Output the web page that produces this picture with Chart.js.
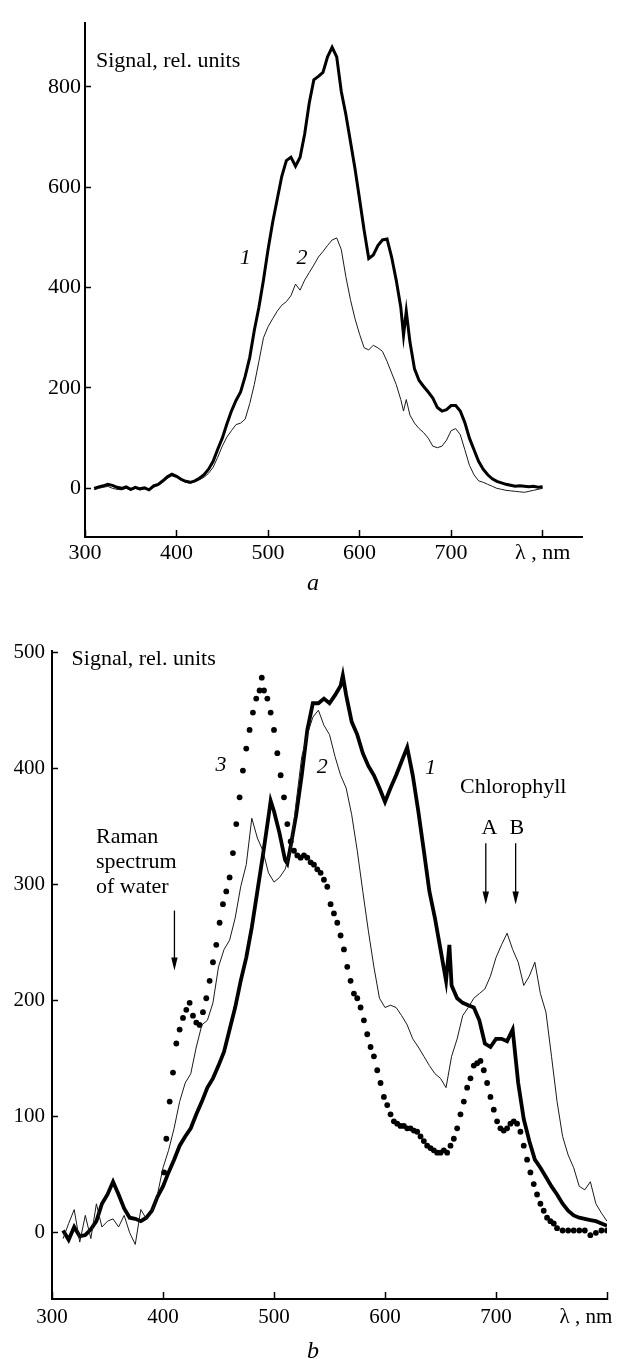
<!DOCTYPE html>
<html><head><meta charset="utf-8">
<script src="https://cdn.jsdelivr.net/npm/chart.js@4/dist/chart.umd.min.js"></script>
<style>
html,body{margin:0;padding:0;background:#fff;}
#wa{position:absolute;left:0;top:0;width:620px;height:600px;}
#wb{position:absolute;left:0;top:620px;width:620px;height:739px;}
</style></head><body>
<div id="wa"><canvas id="ca"></canvas></div>
<div id="wb"><canvas id="cb"></canvas></div>
<script>
// ---------- Panel a ----------
const aXTicks = [300,400,500,600,700,800];
const aYTicks = [0,200,400,600,800];
const aWl = [310,315,320,325,330,335,340,345,350,355,360,365,370,375,380,385,390,395,400,405,410,415,420,425,430,435,440,445,450,455,460,465,470,475,480,485,490,495,500,505,510,515,520,525,530,535,540,545,550,555,560,565,570,575,580,585,590,595,600,605,610,615,620,625,630,635,640,645,648,651,655,660,665,670,675,680,685,690,695,700,705,710,715,720,725,730,735,740,745,750,755,760,765,770,775,780,785,790,795,800];
const aCurve1 = [0,3,5,8,6,2,0,3,-2,2,-1,1,-3,5,8,15,23,28,24,18,14,12,15,20,27,38,54,78,100,128,154,175,192,223,261,315,361,415,476,530,576,622,653,660,642,660,706,768,814,821,829,860,879,860,791,745,691,637,576,514,458,465,484,495,497,461,415,361,305,353,292,238,215,203,192,180,161,154,157,165,165,154,131,100,77,54,38,27,19,14,11,8,6,4,5,4,3,4,2,3];
const aCurve2 = [-3,0,2,4,0,-2,-3,0,-4,0,-3,-1,-4,2,6,12,20,25,22,16,12,10,13,17,22,30,42,62,84,102,115,127,130,138,169,207,253,300,322,338,353,365,372,384,407,395,415,430,445,461,472,484,495,499,476,422,376,338,307,280,276,285,280,273,253,230,207,177,154,177,146,130,119,111,100,84,81,84,96,115,119,107,77,46,27,15,12,8,4,0,-2,-4,-5,-6,-7,-8,-6,-4,-2,0];

// ---------- Panel b ----------
const bXTicks = [300,400,500,600,700,800];
const bYTicks = [0,100,200,300,400,500];
const bWl1 = [310,315,320,325,330,335,340,345,350,355,360,365,370,375,380,385,390,395,400,405,410,415,420,425,430,435,440,445,450,455,460,465,470,475,480,485,490,495,497,500,505,510,512,515,520,525,530,535,540,545,550,555,560,562,565,570,575,580,585,590,595,600,605,610,615,620,625,630,635,640,645,650,655,658,660,665,670,675,680,685,690,695,700,705,710,715,720,725,730,735,740,745,750,755,760,765,770,775,780,785,790,795,800];
const bCurve1 = [2,-6,5,-3,-2,3,10,25,33,44,33,21,13,12,10,13,19,31,40,52,63,75,83,90,102,113,125,133,144,156,175,194,217,237,263,294,325,358,372,363,344,321,318,333,360,394,433,456,456,460,456,463,471,480,463,440,429,413,402,394,383,371,383,394,406,418,394,363,329,294,271,244,217,248,213,202,198,196,194,183,163,160,167,167,165,175,129,98,79,63,56,48,40,33,25,19,15,13,12,11,10,8,6];
const bWl2 = [310,315,320,325,330,335,340,345,350,355,360,365,370,375,380,385,390,395,400,405,410,415,420,425,430,435,440,445,450,455,460,465,470,475,480,485,490,495,500,505,510,515,520,525,530,535,540,545,550,555,560,565,570,575,580,585,590,595,600,605,610,615,620,625,630,635,640,645,650,655,660,665,670,675,680,685,690,695,700,705,710,715,720,725,730,735,740,745,750,755,760,765,770,775,780,785,790,795,800];
const bCurve2 = [-5,8,20,-8,15,-5,25,5,10,12,5,15,0,-10,20,12,17,33,56,71,90,113,129,137,160,179,183,198,229,244,252,271,298,317,357,340,329,310,302,306,313,329,371,410,429,444,450,437,429,410,394,383,360,329,294,260,229,202,194,196,194,187,179,167,160,152,144,137,133,125,152,167,187,194,202,206,210,221,237,248,258,244,233,213,221,233,206,190,152,113,83,67,56,40,37,44,25,17,10];
const bWl3 = [401,403,406,409,412,415,418,421,424,427,430,433,436,439,442,445,448,451,454,457,460,463,466,469,472,475,478,481,484,487,489,491,494,497,500,503,506,509,512,515,518,521,524,527,530,533,536,539,542,545,548,551,554,557,560,563,566,569,572,575,578,581,584,587,590,593,596,599,602,605,608,611,614,617,620,623,626,629,632,635,638,641,644,647,650,653,656,659,662,665,668,671,674,677,680,683,686,689,692,695,698,701,704,707,710,713,716,719,722,725,728,731,734,737,740,743,746,749,752,755,760,765,770,775,780,785,790,795,800];
const bCurve3 = [52,81,113,138,163,175,185,192,198,187,181,179,190,202,217,233,248,267,283,294,306,327,352,375,398,417,433,448,460,467,478,467,460,448,433,413,394,375,352,337,329,325,323,325,323,319,317,313,310,304,298,283,275,267,256,244,229,217,206,202,194,183,171,160,152,140,129,117,110,102,96,94,92,92,90,90,88,87,83,79,75,73,71,69,69,71,69,75,81,90,102,113,125,133,144,146,148,140,129,117,106,96,90,88,90,94,96,94,87,75,63,52,42,33,25,19,13,10,8,4,2,2,2,2,2,-2,0,2,2];

const pts = (xs, ys) => xs.map((x, i) => ({x, y: ys[i]}));
const SERIF = '"Liberation Serif", "DejaVu Serif", serif';

const annot = {
  id: 'annot',
  afterDatasetsDraw(chart, args, opts) {
    const ctx = chart.ctx, xs = chart.scales.x, ys = chart.scales.y;
    ctx.save();
    ctx.fillStyle = '#000'; ctx.strokeStyle = '#000';
    (opts.texts || []).forEach(t => {
      ctx.font = t.font; ctx.textAlign = t.align || 'center'; ctx.textBaseline = 'middle';
      const x = t.px != null ? t.px : xs.getPixelForValue(t.x);
      const y = t.py != null ? t.py : ys.getPixelForValue(t.y);
      ctx.fillText(t.text, x, y);
    });
    (opts.arrows || []).forEach(a => {
      const x = xs.getPixelForValue(a.x), y1 = ys.getPixelForValue(a.y1), y2 = ys.getPixelForValue(a.y2);
      ctx.lineWidth = 1.3;
      ctx.beginPath(); ctx.moveTo(x, y1); ctx.lineTo(x, y2 - 8); ctx.stroke();
      ctx.beginPath(); ctx.moveTo(x - 3.2, y2 - 13); ctx.lineTo(x, y2); ctx.lineTo(x + 3.2, y2 - 13); ctx.closePath(); ctx.fill();
    });
    ctx.restore();
  }
};

function axisCfg(o) {
  return {
    type: 'linear', min: o.min, max: o.max,
    afterBuildTicks: s => { s.ticks = o.ticks.map(v => ({value: v})); },
    afterFit: s => { if (o.w != null) s.width = o.w; if (o.h != null) s.height = o.h; },
    border: {display: true, color: '#000', width: 2},
    grid: {display: true, drawOnChartArea: false, drawTicks: true, tickLength: o.tl, tickWidth: 1.5, tickColor: '#000'},
    ticks: {color: '#000', font: {family: SERIF, size: o.fs}, padding: o.pad, maxRotation: 0, autoSkip: false,
      callback: o.cb || (v => String(v))}
  };
}

const IT = 'italic 22px ' + SERIF;
const RG = '22px ' + SERIF;

new Chart(document.getElementById('ca'), {
  type: 'scatter',
  data: {datasets: [
    {data: pts(aWl, aCurve1), showLine: true, borderColor: '#000', borderWidth: 3, pointRadius: 0, tension: 0},
    {data: pts(aWl, aCurve2), showLine: true, borderColor: '#1a1a1a', borderWidth: 1, pointRadius: 0, tension: 0}
  ]},
  options: {
    responsive: true, maintainAspectRatio: false, animation: false,
    layout: {padding: {left: 0, right: 38, top: 9, bottom: 0}},
    plugins: {legend: {display: false}, tooltip: {enabled: false},
      annot: {texts: [
        {text: 'Signal, rel. units', x: 312, y: 851, align: 'left', font: RG},
        {text: '1', x: 475, y: 458, font: IT},
        {text: '2', x: 537, y: 458, font: IT},
        {text: 'a', px: 313, py: 584, font: 'italic 24px ' + SERIF}
      ]}},
    scales: {
      x: axisCfg({min: 300, max: 843, ticks: aXTicks, h: 63, tl: -7, pad: 10, fs: 22, cb: v => v === 800 ? 'λ , nm' : String(v)}),
      y: axisCfg({min: -97, max: 927, ticks: aYTicks, w: 85, tl: -6, pad: 10, fs: 22})
    }
  },
  plugins: [annot]
});

new Chart(document.getElementById('cb'), {
  type: 'scatter',
  data: {datasets: [
    {data: pts(bWl2, bCurve2), showLine: true, borderColor: '#1a1a1a', borderWidth: 1, pointRadius: 0, tension: 0},
    {data: pts(bWl1, bCurve1), showLine: true, borderColor: '#000', borderWidth: 3.8, pointRadius: 0, tension: 0},
    {data: pts(bWl3, bCurve3), showLine: false, pointRadius: 2.9, pointBackgroundColor: '#000', pointBorderWidth: 0}
  ]},
  options: {
    responsive: true, maintainAspectRatio: false, animation: false,
    layout: {padding: {left: 0, right: 0, top: 31, bottom: 0}},
    plugins: {legend: {display: false}, tooltip: {enabled: false},
      annot: {
        texts: [
          {text: 'Signal, rel. units', x: 317.6, y: 493.8, align: 'left', font: RG},
          {text: '3', x: 452.3, y: 402.4, font: IT},
          {text: '2', x: 543.5, y: 401, font: IT},
          {text: '1', x: 641, y: 400.2, font: IT},
          {text: 'Chlorophyll', x: 715.5, y: 383.8, font: RG},
          {text: 'A', x: 694, y: 348.4, font: RG},
          {text: 'B', x: 718.7, y: 348.4, font: RG},
          {text: 'Raman', x: 339.6, y: 340.7, align: 'left', font: RG},
          {text: 'spectrum', x: 339.6, y: 319.1, align: 'left', font: RG},
          {text: 'of water', x: 339.6, y: 297.6, align: 'left', font: RG},
          {text: 'λ , nm', px: 586, py: 697, font: '21px ' + SERIF},
          {text: 'b', px: 313, py: 732, font: 'italic 24px ' + SERIF}
        ],
        arrows: [
          {x: 690.8, y1: 335.5, y2: 282.7},
          {x: 717.7, y1: 335.5, y2: 282.7},
          {x: 410.3, y1: 277.5, y2: 225.8}
        ]
      }},
    scales: {
      x: axisCfg({min: 300, max: 800, ticks: bXTicks, h: 60, tl: -7, pad: 13, fs: 21, cb: v => v === 800 ? '' : String(v)}),
      y: axisCfg({min: -57, max: 501, ticks: bYTicks, w: 52, tl: -6, pad: 13, fs: 21})
    }
  },
  plugins: [annot]
});
</script>
</body></html>
